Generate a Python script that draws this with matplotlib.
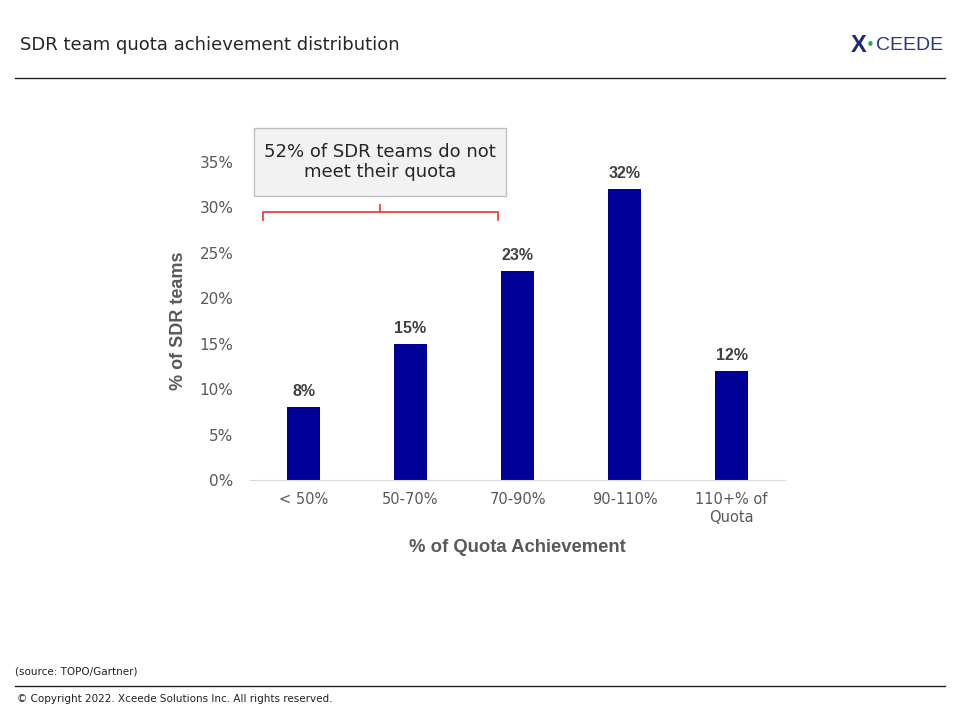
import matplotlib.pyplot as plt
from matplotlib.patches import Rectangle
from matplotlib.lines import Line2D

categories = ['< 50%', '50-70%', '70-90%', '90-110%', '110+% of\nQuota']
values = [8, 15, 23, 32, 12]
yticks = [0, 5, 10, 15, 20, 25, 30, 35]

plt.rcParams['font.family'] = ['DejaVu Sans']
BOLD = ['Liberation Sans', 'DejaVu Sans']

W, H = 960, 720
def fx(px):
    return px / W
def fy(py):
    return 1 - py / H

fig = plt.figure(figsize=(9.6, 7.2), dpi=100)

# header
fig.text(fx(20), fy(45), 'SDR team quota achievement distribution', fontsize=13,
         color='#262626', va='center', ha='left')
fig.add_artist(Line2D([fx(15), fx(945)], [fy(78), fy(78)], color='#222222', lw=1))
fig.text(fx(851), fy(45), 'X', fontsize=17, fontweight='bold', color='#1f2a7a',
         va='center', ha='left', family=BOLD)
fig.text(fx(866), fy(45), '•', fontsize=11, color='#22b04b', va='center', ha='left')
fig.text(fx(876), fy(45), 'CEEDE', fontsize=14, color='#2a3585', va='center', ha='left',
         family=BOLD)

# footer
fig.text(fx(15), fy(672), '(source: TOPO/Gartner)', fontsize=7.5, color='#222222', va='center')
fig.add_artist(Line2D([fx(15), fx(945)], [fy(686), fy(686)], color='#222222', lw=1))
fig.text(fx(17), fy(699), '© Copyright 2022. Xceede Solutions Inc. All rights reserved.',
         fontsize=7.5, color='#222222', va='center')

# chart
ax = fig.add_axes([fx(250), fy(480), fx(785) - fx(250), fy(162) - fy(480)])
x = range(len(categories))
bars = ax.bar(x, values, width=0.31, color='#000099')
for xi, v in zip(x, values):
    ax.text(xi, v + 0.9, f'{v}%', ha='center', va='bottom', fontsize=11.5,
            fontweight='bold', color='#404040', family=BOLD)

ax.set_xlim(-0.5, len(categories) - 0.5)
ax.set_ylim(0, 35)
ax.set_yticks(yticks)
ax.set_yticklabels([f'{t}%' for t in yticks])
ax.set_xticks(list(x))
ax.set_xticklabels(categories)
ax.tick_params(axis='both', length=0, labelcolor='#595959')
ax.tick_params(axis='y', pad=12, labelsize=11)
ax.tick_params(axis='x', pad=9, labelsize=10.5)
for s in ['top', 'right', 'left']:
    ax.spines[s].set_visible(False)
ax.spines['bottom'].set_color('#d9d9d9')
ax.set_ylabel('% of SDR teams', fontsize=13, fontweight='bold', color='#595959',
              labelpad=9, family=BOLD)
ax.set_xlabel('% of Quota Achievement', fontsize=13.3, fontweight='bold', color='#595959',
              labelpad=10, family=BOLD)

# callout box
fig.add_artist(Rectangle((fx(254), fy(196)), fx(506) - fx(254), fy(128) - fy(196),
                         transform=fig.transFigure, facecolor='#f2f2f2',
                         edgecolor='#bfbfbf', lw=1))
fig.text(fx(380), fy(162), '52% of SDR teams do not\nmeet their quota', fontsize=13,
         color='#262626', ha='center', va='center', linespacing=1.2)

# bracket
red = '#f04040'
fig.add_artist(Line2D([fx(263), fx(263), fx(498), fx(498)],
                      [fy(220), fy(212), fy(212), fy(220)], color=red, lw=1.3))
fig.add_artist(Line2D([fx(380), fx(380)], [fy(212), fy(205)], color=red, lw=1.3))

fig.savefig('out.png', dpi=100)
